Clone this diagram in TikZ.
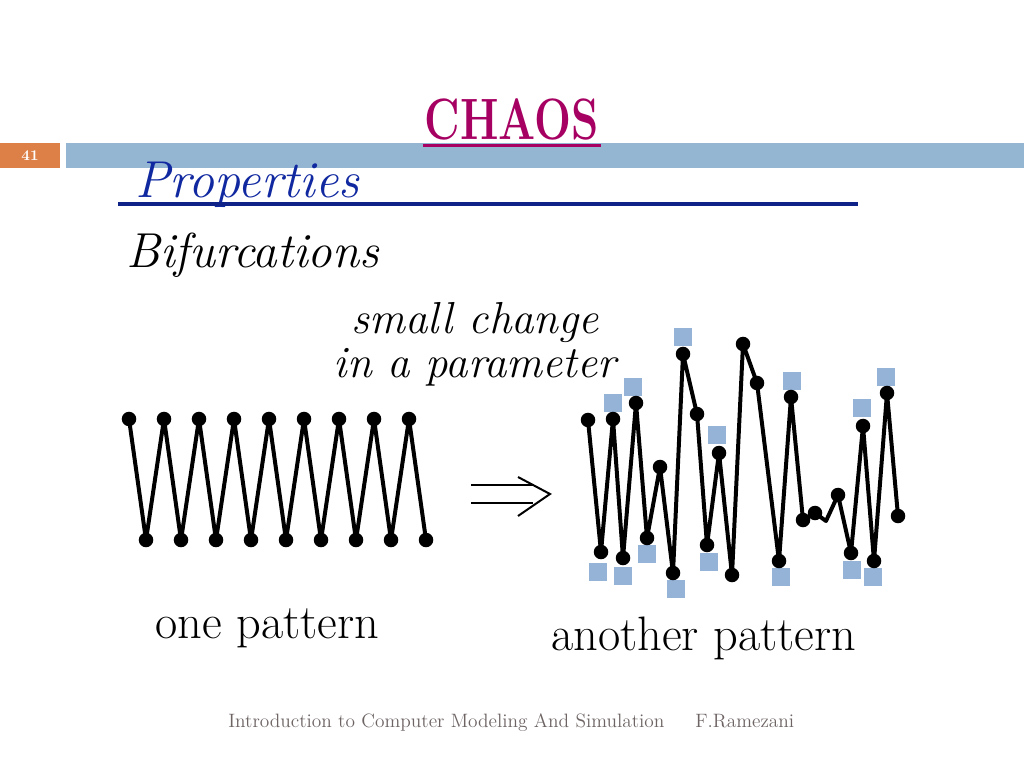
\documentclass[tikz,border=0pt]{standalone}
\usetikzlibrary{positioning}
\definecolor{slideorange}{RGB}{221,128,71}
\definecolor{barblue}{RGB}{148,182,210}
\definecolor{sqblue}{RGB}{149,179,215}
\definecolor{chaosred}{RGB}{166,0,98}
\definecolor{propblue}{RGB}{16,40,160}
\definecolor{footgray}{RGB}{110,100,100}

\begin{document}
\begin{tikzpicture}[x=0.703125pt,y=-0.703125pt,
    zig/.style={line width=2.8pt,line join=round},
    dot/.style={circle,fill=black,inner sep=0pt,minimum size=10.2pt},
    sqr/.style={fill=sqblue,inner sep=0pt,minimum size=12pt},
    big/.style={font=\fontsize{34}{40}\selectfont,inner sep=0pt}]
  \useasboundingbox[fill=white] (0,0) rectangle (1024,768);

  % header
  \fill[slideorange] (0,143) rectangle (60,168);
  \fill[barblue] (66,143) rectangle (1024,168);
  \node[text=white,font=\bfseries\fontsize{10.5}{12}\selectfont] (num) at (30,156) {41};
  \node[anchor=base,text=chaosred,inner sep=0pt,font=\bfseries\fontsize{41}{48}\selectfont]
    (title) at (512,140) {\scalebox{0.75}[1]{CHAOS}};
  \draw[chaosred,line width=2.2pt] (423,145.5) -- (601,145.5);

  \node[anchor=base west,text=propblue,inner sep=0pt,font=\itshape\fontsize{36.5}{42}\selectfont]
    (prop) at (135,198) {Properties};
  \draw[propblue!85!black,line width=2.8pt] (118,204) -- (858,204);
  \node[anchor=base west,inner sep=0pt,font=\itshape\fontsize{34.5}{40}\selectfont]
    (bif) at (126,268) {Bifurcations};

  \node[anchor=base,inner sep=0pt,font=\itshape\fontsize{31.5}{37}\selectfont] (small) at (475,333) {small change};
  \node[anchor=base,inner sep=0pt,font=\itshape\fontsize{31.5}{37}\selectfont] (param) at (475,377) {in a parameter};

  % one pattern
  \foreach \i in {0,...,8} {
    \coordinate (t\i) at (129+35*\i,419);
    \coordinate (b\i) at (146+35*\i,540);
  }
  \foreach \i [evaluate=\i as \j using int(\i+1)] in {0,...,7}
    \draw[zig] (t\i) -- (b\i) -- (t\j);
  \draw[zig] (t8) -- (b8);
  \foreach \i in {0,...,8} {
    \node[dot] at (t\i) {};
    \node[dot] at (b\i) {};
  }

  % arrow
  \coordinate (al) at (471,485);
  \coordinate (bl) at (471,503);
  \draw[line width=1.4pt] (al) -- ++(62,0) (bl) -- ++(62,0);
  \draw[line width=1.4pt,line join=miter] (518,477) -- (550,494) -- (518,516);

  % another pattern
  \foreach \x/\y [count=\n] in {588/420,601/552,613/419,623/558,636/403,647/538,
      660/467,673/573,683/354,697/414,707/545,719/453,732/575,743/344,757/383,
      779/561,791/397,803/520,815/513,826/521,838/495,851/553,863/426,874/561,
      887/393,898/516}
    \coordinate (r\n) at (\x,\y);
  \foreach \x/\y [count=\n] in {598/572,613/403,623/576,633/387,647/554,676/589,
      683/337,709/562,717/435,781/577,792/381,852/570,862/408,873/577,886/377}
    \node[sqr] (s\n) at (\x,\y) {};
  \draw[zig] (r1) \foreach \n in {2,...,26} { -- (r\n) };
  \foreach \n in {1,...,19,21,22,...,26}
    \node[dot] at (r\n) {};

  \node[big,anchor=base west] (one) at (155,638) {one pattern};
  \node[big,anchor=base west] (another) at (551,650) {another pattern};

  % footer
  \node[anchor=base west,inner sep=0pt,text=footgray,font=\fontsize{13.6}{16}\selectfont]
    (foot) at (228,727) {Introduction to Computer Modeling And Simulation};
  \node[anchor=base west,inner sep=0pt,text=footgray,font=\fontsize{13.6}{16}\selectfont]
    (auth) at (695,727) {F.Ramezani};
\end{tikzpicture}
\end{document}
